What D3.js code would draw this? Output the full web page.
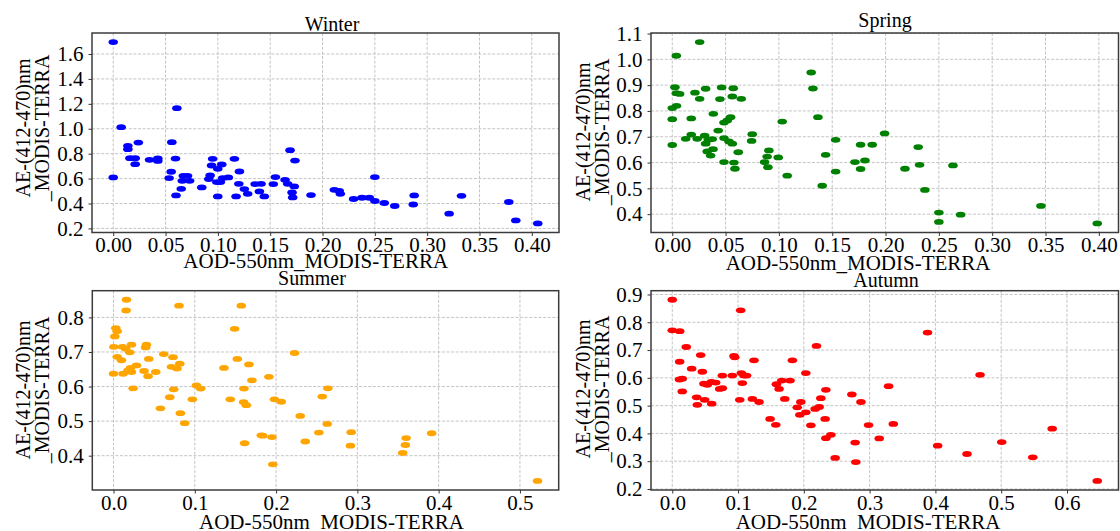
<!DOCTYPE html>
<html><head><meta charset="utf-8">
<script src="https://cdn.jsdelivr.net/npm/d3@7/dist/d3.min.js"></script>
<style>body{margin:0;background:#fff}svg{display:block}svg text{font-family:"Liberation Serif","Times New Roman",Times,serif}</style>
</head><body>
<svg id="chart" width="1120" height="531"></svg>
<script>
// ---------------- DATA ----------------
const seasons = ["Winter", "Spring", "Summer", "Autumn"];
const xLabel = "AOD-550nm_MODIS-TERRA";
const yLabelLine1 = "AE-(412-470)nm";
const yLabelLine2 = "_MODIS-TERRA";

const winterAOD = [0.000,0.000,0.0076,0.014,0.014,0.016,0.021,0.021,0.024,0.0347,0.0426,0.0426,0.0534,0.056,0.0554,0.0595,0.060,0.0608,0.065,0.067,0.071,0.066,0.073,0.0846,0.095,0.094,0.0926,0.0913,0.0999,0.1037,0.099,0.1024,0.0999,0.1046,0.110,0.1158,0.1174,0.1206,0.120,0.1253,0.1285,0.1356,0.1397,0.1413,0.1444,0.153,0.155,0.1642,0.1667,0.169,0.1737,0.173,0.1709,0.1715,0.189,0.2113,0.216,0.217,0.2297,0.2377,0.2447,0.250,0.250,0.259,0.269,0.2867,0.2876,0.321,0.3328,0.378,0.3847,0.4057];
const winterAE  = [1.696,0.609,1.013,0.863,0.836,0.764,0.764,0.716,0.889,0.751,0.762,0.742,0.604,0.892,0.655,0.761,0.465,1.165,0.518,0.622,0.622,0.582,0.582,0.529,0.759,0.705,0.625,0.596,0.678,0.713,0.572,0.572,0.457,0.604,0.609,0.759,0.457,0.657,0.558,0.516,0.478,0.556,0.497,0.558,0.457,0.556,0.612,0.590,0.558,0.828,0.745,0.537,0.489,0.449,0.468,0.510,0.502,0.478,0.436,0.446,0.446,0.612,0.420,0.404,0.380,0.392,0.465,0.318,0.462,0.412,0.264,0.240];

const springAOD = [0.0257,0.0038,0.0025,0.0038,0.0069,0.000,0.004,0.000,0.000,0.0178,0.0213,0.0257,0.0313,0.0126,0.0178,0.0234,0.0304,0.0313,0.0338,0.0375,0.0328,0.036,0.0382,0.0385,0.0431,0.0447,0.0463,0.0485,0.0485,0.0485,0.0516,0.0532,0.0547,0.0563,0.0572,0.0563,0.0578,0.0588,0.0619,0.0647,0.075,0.0744,0.0866,0.089,0.0906,0.0897,0.0994,0.1031,0.1078,0.1303,0.1319,0.1366,0.1406,0.1438,0.1532,0.1532,0.1766,0.1875,0.1991,0.1713,0.1807,0.1766,0.2182,0.2306,0.2319,0.2369,0.250,0.250,0.2704,0.2632,0.3457,0.3985];
const springAE  = [1.067,1.014,0.892,0.869,0.866,0.811,0.820,0.768,0.668,0.771,0.871,0.847,0.886,0.692,0.708,0.692,0.704,0.673,0.688,0.691,0.643,0.627,0.652,0.789,0.724,0.846,0.891,0.695,0.602,0.755,0.763,0.682,0.776,0.856,0.888,0.673,0.600,0.576,0.640,0.847,0.710,0.684,0.602,0.623,0.647,0.582,0.620,0.759,0.549,0.949,0.887,0.776,0.510,0.630,0.688,0.565,0.669,0.669,0.713,0.602,0.608,0.575,0.576,0.660,0.591,0.494,0.406,0.370,0.398,0.589,0.432,0.364];

const summerAOD = [0.016,0.0155,0.0806,0.0028,0.0045,0.0016,0.0004,0.011,0.0151,0.020,0.0221,0.0045,0.0098,0.000,0.0118,0.0179,0.0221,0.0209,0.0283,0.0241,0.0405,0.0395,0.0434,0.0376,0.0425,0.052,0.0618,0.0732,0.0713,0.0781,0.0815,0.0741,0.0692,0.0577,0.0823,0.0876,0.102,0.1073,0.097,0.1359,0.1437,0.149,0.1572,0.1523,0.1605,0.160,0.1634,0.1613,0.1666,0.1703,0.1818,0.1835,0.1912,0.1949,0.196,0.198,0.2064,0.2227,0.2297,0.2359,0.2526,0.2568,0.2629,0.2637,0.2924,0.2915,0.3558,0.360,0.3591,0.3914,0.5216];
const summerAE  = [0.851,0.820,0.834,0.769,0.760,0.745,0.715,0.715,0.709,0.699,0.721,0.686,0.676,0.637,0.637,0.647,0.642,0.654,0.661,0.595,0.721,0.713,0.680,0.645,0.630,0.642,0.694,0.685,0.657,0.652,0.666,0.592,0.569,0.537,0.523,0.494,0.603,0.594,0.563,0.654,0.563,0.767,0.834,0.680,0.594,0.555,0.546,0.436,0.664,0.618,0.459,0.458,0.628,0.454,0.375,0.563,0.556,0.697,0.515,0.441,0.467,0.571,0.492,0.595,0.468,0.429,0.408,0.451,0.431,0.465,0.327];

const autumnAOD = [0.000,0.000,0.0113,0.0213,0.0113,0.0295,0.0152,0.011,0.0152,0.0432,0.0457,0.0371,0.0381,0.0493,0.0482,0.0533,0.0594,0.060,0.066,0.0761,0.0721,0.0761,0.0913,0.0939,0.095,0.104,0.105,0.109,0.113,0.1065,0.1026,0.1243,0.1218,0.132,0.1487,0.1574,0.1583,0.1624,0.1665,0.171,0.179,0.1826,0.190,0.1954,0.1939,0.203,0.203,0.2107,0.2192,0.2172,0.2233,0.2258,0.2335,0.2324,0.2335,0.2411,0.2476,0.273,0.278,0.279,0.2868,0.2984,0.3146,0.3288,0.336,0.388,0.4034,0.448,0.4679,0.5008,0.548,0.5775,0.646];
const autumnAE  = [0.881,0.771,0.768,0.711,0.658,0.633,0.597,0.594,0.551,0.682,0.622,0.530,0.503,0.521,0.579,0.575,0.585,0.507,0.583,0.608,0.560,0.563,0.608,0.679,0.674,0.843,0.617,0.608,0.608,0.581,0.521,0.663,0.524,0.513,0.452,0.431,0.577,0.560,0.590,0.524,0.590,0.663,0.494,0.513,0.467,0.476,0.617,0.429,0.715,0.488,0.495,0.527,0.557,0.452,0.383,0.395,0.312,0.540,0.367,0.297,0.513,0.430,0.382,0.570,0.434,0.763,0.356,0.326,0.611,0.369,0.314,0.417,0.229];

const winterXTicks = [0,0.05,0.10,0.15,0.20,0.25,0.30,0.35,0.40];
const winterYTicks = [0.2,0.4,0.6,0.8,1.0,1.2,1.4,1.6];
const springXTicks = [0,0.05,0.10,0.15,0.20,0.25,0.30,0.35,0.40];
const springYTicks = [0.4,0.5,0.6,0.7,0.8,0.9,1.0,1.1];
const summerXTicks = [0,0.1,0.2,0.3,0.4,0.5];
const summerYTicks = [0.4,0.5,0.6,0.7,0.8];
const autumnXTicks = [0,0.1,0.2,0.3,0.4,0.5,0.6];
const autumnYTicks = [0.2,0.3,0.4,0.5,0.6,0.7,0.8,0.9];

const seasonColors = ["#0000ff", "#008000", "#ffa500", "#ff0000"];

// ---------------- LAYOUT ----------------
const FONT = '"Liberation Serif","Times New Roman",Times,serif';
const panels = [
  {title: seasons[0], xs: winterAOD, ys: winterAE, color: seasonColors[0], xt: winterXTicks, yt: winterYTicks, xf: ".2f", yf: ".1f",
   box: {l: 92, r: 559, t: 33, b: 232.5}, titlePos: [332, 30.5], xlPos: [183.3, 268.3], ylPos: [29.5, 49, 128]},
  {title: seasons[1], xs: springAOD, ys: springAE, color: seasonColors[1], xt: springXTicks, yt: springYTicks, xf: ".2f", yf: ".1f",
   box: {l: 651, r: 1118.5, t: 33, b: 232.5}, titlePos: [885, 26.7], xlPos: [725.7, 270], ylPos: [589.5, 609, 132]},
  {title: seasons[2], xs: summerAOD, ys: summerAE, color: seasonColors[2], xt: summerXTicks, yt: summerYTicks, xf: ".1f", yf: ".1f",
   box: {l: 92.3, r: 558.7, t: 290.7, b: 490}, titlePos: [312, 285], xlPos: [199, 529], ylPos: [29.5, 49, 390]},
  {title: seasons[3], xs: autumnAOD, ys: autumnAE, color: seasonColors[3], xt: autumnXTicks, yt: autumnYTicks, xf: ".1f", yf: ".1f",
   box: {l: 651, r: 1118.5, t: 290.7, b: 490}, titlePos: [886, 287.3], xlPos: [735.7, 529], ylPos: [589.5, 609, 389]}
];

const svg = d3.select("#chart");
svg.append("rect").attr("width", 1120).attr("height", 531).attr("fill", "#fff");

function padded(vals) {
  const [lo, hi] = d3.extent(vals);
  const m = (hi - lo) * 0.05;
  return [lo - m, hi + m];
}

panels.forEach(p => {
  const {l, r, t, b} = p.box;
  const x = d3.scaleLinear().domain(padded(p.xs)).range([l, r]);
  const y = d3.scaleLinear().domain(padded(p.ys)).range([b, t]);
  const g = svg.append("g");

  // grid
  const grid = g.append("g").attr("class", "grid");
  grid.selectAll("line.vx").data(p.xt).enter().append("line")
    .attr("x1", d => x(d)).attr("x2", d => x(d)).attr("y1", t).attr("y2", b)
    .attr("stroke", "#c4c4c4").attr("stroke-width", 1).attr("stroke-dasharray", "3,1.6");
  grid.selectAll("line.hy").data(p.yt).enter().append("line")
    .attr("x1", l).attr("x2", r).attr("y1", d => y(d)).attr("y2", d => y(d))
    .attr("stroke", "#c4c4c4").attr("stroke-width", 1).attr("stroke-dasharray", "3,1.6");

  // points
  g.append("g").selectAll("ellipse").data(p.xs.map((v, i) => [v, p.ys[i]])).enter().append("ellipse")
    .attr("cx", d => x(d[0])).attr("cy", d => y(d[1]))
    .attr("rx", 4.8).attr("ry", 2.9).attr("fill", p.color);

  // axes
  const xAxis = d3.axisBottom(x).tickValues(p.xt).tickFormat(d3.format(p.xf)).tickSize(3.5).tickPadding(1.2);
  const yAxis = d3.axisLeft(y).tickValues(p.yt).tickFormat(d3.format(p.yf)).tickSize(3.5).tickPadding(5);
  const ax = g.append("g").attr("transform", `translate(0,${b})`).call(xAxis);
  const ay = g.append("g").attr("transform", `translate(${l},0)`).call(yAxis);
  [ax, ay].forEach(a => {
    a.attr("font-family", null).attr("font-size", null);
    a.select(".domain").remove();
    a.selectAll(".tick line").attr("stroke", "#333").attr("stroke-width", 1);
    a.selectAll(".tick text").style("font-family", FONT).style("font-size", "21px").attr("fill", "#000");
  });

  // frame
  g.append("rect").attr("x", l).attr("y", t).attr("width", r - l).attr("height", b - t)
    .attr("fill", "none").attr("stroke", "#3c3c3c").attr("stroke-width", 1.5);

  // title
  svg.append("text").attr("x", p.titlePos[0]).attr("y", p.titlePos[1]).attr("text-anchor", "middle")
    .style("font-family", FONT).style("font-size", "20px").attr("fill", "#000").text(p.title);

  // x label
  svg.append("text").attr("x", p.xlPos[0]).attr("y", p.xlPos[1]).attr("text-anchor", "start")
    .style("font-family", FONT).style("font-size", "21px").attr("fill", "#000").text(xLabel);

  // y label (two lines)
  [[p.ylPos[0], yLabelLine1], [p.ylPos[1], yLabelLine2]].forEach(([bx, txt]) => {
    svg.append("text").attr("transform", `translate(${bx},${p.ylPos[2]}) rotate(-90)`)
      .attr("text-anchor", "middle").style("font-family", FONT).style("font-size", "20px").attr("fill", "#000").text(txt);
  });
});
</script>
</body></html>
